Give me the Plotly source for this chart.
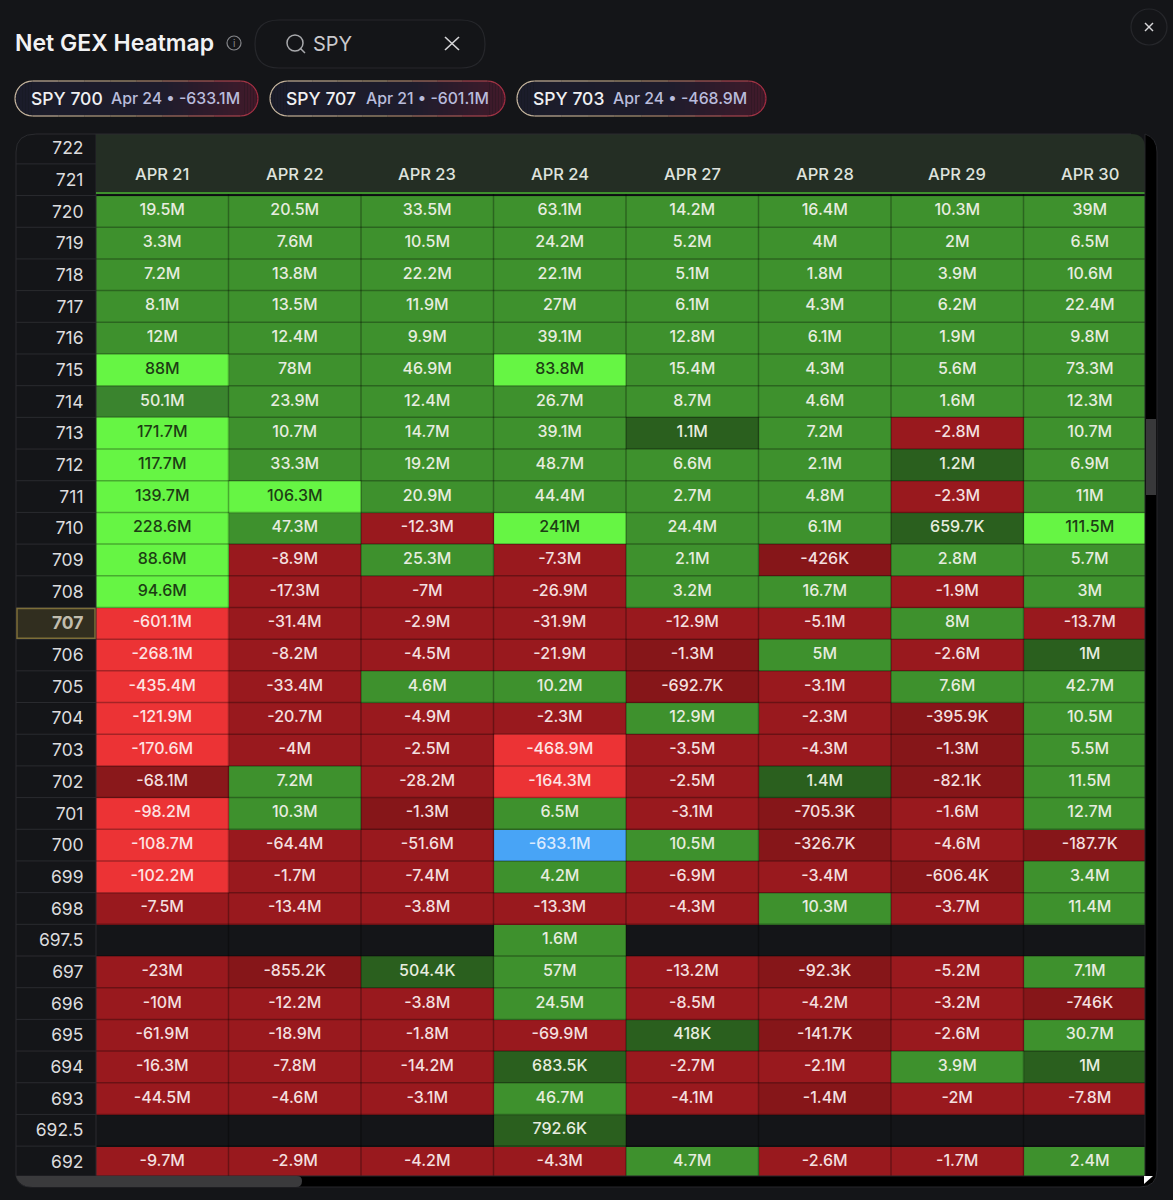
import math

import plotly.graph_objects as go

# strikes top to bottom, the two top rows sit behind the date header
strikes = ["722", "721", "720", "719", "718", "717", "716", "715", "714", "713", "712",
           "711", "710", "709", "708", "707", "706", "705", "704", "703", "702", "701",
           "700", "699", "698", "697.5", "697", "696", "695", "694", "693", "692.5", "692"]
dates = ["APR 21", "APR 22", "APR 23", "APR 24", "APR 27", "APR 28", "APR 29", "APR 30"]

# net GEX in millions
apr21 = [None, None, 19.5, 3.3, 7.2, 8.1, 12, 88, 50.1, 171.7, 117.7, 139.7, 228.6, 88.6, 94.6,
         -601.1, -268.1, -435.4, -121.9, -170.6, -68.1, -98.2, -108.7, -102.2, -7.5,
         None, -23, -10, -61.9, -16.3, -44.5, None, -9.7]
apr22 = [None, None, 20.5, 7.6, 13.8, 13.5, 12.4, 78, 23.9, 10.7, 33.3, 106.3, 47.3, -8.9, -17.3,
         -31.4, -8.2, -33.4, -20.7, -4, 7.2, 10.3, -64.4, -1.7, -13.4,
         None, -0.8552, -12.2, -18.9, -7.8, -4.6, None, -2.9]
apr23 = [None, None, 33.5, 10.5, 22.2, 11.9, 9.9, 46.9, 12.4, 14.7, 19.2, 20.9, -12.3, 25.3, -7,
         -2.9, -4.5, 4.6, -4.9, -2.5, -28.2, -1.3, -51.6, -7.4, -3.8,
         None, 0.5044, -3.8, -1.8, -14.2, -3.1, None, -4.2]
apr24 = [None, None, 63.1, 24.2, 22.1, 27, 39.1, 83.8, 26.7, 39.1, 48.7, 44.4, 241, -7.3, -26.9,
         -31.9, -21.9, 10.2, -2.3, -468.9, -164.3, 6.5, -633.1, 4.2, -13.3,
         1.6, 57, 24.5, -69.9, 0.6835, 46.7, 0.7926, -4.3]
apr27 = [None, None, 14.2, 5.2, 5.1, 6.1, 12.8, 15.4, 8.7, 1.1, 6.6, 2.7, 24.4, 2.1, 3.2,
         -12.9, -1.3, -0.6927, 12.9, -3.5, -2.5, -3.1, 10.5, -6.9, -4.3,
         None, -13.2, -8.5, 0.418, -2.7, -4.1, None, 4.7]
apr28 = [None, None, 16.4, 4, 1.8, 4.3, 6.1, 4.3, 4.6, 7.2, 2.1, 4.8, 6.1, -0.426, 16.7,
         -5.1, 5, -3.1, -2.3, -4.3, 1.4, -0.7053, -0.3267, -3.4, 10.3,
         None, -0.0923, -4.2, -0.1417, -2.1, -1.4, None, -2.6]
apr29 = [None, None, 10.3, 2, 3.9, 6.2, 1.9, 5.6, 1.6, -2.8, 1.2, -2.3, 0.6597, 2.8, -1.9,
         8, -2.6, 7.6, -0.3959, -1.3, -0.0821, -1.6, -4.6, -0.6064, -3.7,
         None, -5.2, -3.2, -2.6, 3.9, -2, None, -1.7]
apr30 = [None, None, 39, 6.5, 10.6, 22.4, 9.8, 73.3, 12.3, 10.7, 6.9, 11, 111.5, 5.7, 3,
         -13.7, 1, 42.7, 10.5, 5.5, 11.5, 12.7, -0.1877, 3.4, 11.4,
         None, 7.1, -0.746, 30.7, 1, -7.8, None, 2.4]
columns = [apr21, apr22, apr23, apr24, apr27, apr28, apr29, apr30]

# top strikes shown as chips above the table
chips = [("SPY 700", "Apr 24 • -633.1M"), ("SPY 707", "Apr 21 • -601.1M"), ("SPY 703", "Apr 24 • -468.9M")]
highlight_strike = "707"
muted_cells = [("APR 21", "714"), ("APR 21", "702")]

W, H = 1173, 1200
BG = "#141518"
tier_colors = ["#48a4f6", "#ec3335", "#99191e", "#861619", "#8a181b",
               "#2a5f1e", "#3e912d", "#3a842e", "#66f544"]
text_colors = {8: "#1d3d14", 0: "#dbeafe", 1: "#fde3e3"}
lowest = min(v for c in columns for v in c if v is not None)


def tier(v, col, row):
    if v == lowest:
        return 0
    if v <= -90:
        return 1
    if v >= 80:
        return 8
    if (dates[col], strikes[row]) in muted_cells:
        return 4 if v < 0 else 7
    if v < 0:
        return 3 if v > -1.5 else 2
    return 5 if v < 1.5 else 6


def label(v):
    if abs(v) < 1:
        return f"{round(v * 1000, 1):g}K"
    return f"{v:g}M"


def px(x):
    return x / W


def py(y):
    return 1 - y / H


def page_shape(kind, x0, y0, x1, y1, **kw):
    return dict(type=kind, xref="paper", yref="paper", x0=px(x0), x1=px(x1), y0=py(y0), y1=py(y1), **kw)


def page_path(d, **kw):
    # d is a list of path commands in page pixels, e.g. ("L", 10, 20) or ("Q", 10, 20, 30, 40)
    parts = []
    for cmd, *xy in d:
        pairs = [f"{px(xy[i]):.5f},{py(xy[i + 1]):.5f}" for i in range(0, len(xy), 2)]
        parts.append(cmd + " ".join(pairs))
    return dict(type="path", xref="paper", yref="paper", path=" ".join(parts), **kw)


def mix(a, b, t):
    a = [int(a[i:i + 2], 16) for i in (1, 3, 5)]
    b = [int(b[i:i + 2], 16) for i in (1, 3, 5)]
    return "#" + "".join(f"{round(p + (q - p) * t):02x}" for p, q in zip(a, b))


def pill(x0, x1, y0, y1):
    # no gradients on shapes, so slice the chip into thin strips
    out = []
    r = (y1 - y0) / 2
    cy = (y0 + y1) / 2

    def half(x):
        if x < x0 + r:
            return math.sqrt(max(r * r - (x0 + r - x) ** 2, 0))
        if x > x1 - r:
            return math.sqrt(max(r * r - (x - x1 + r) ** 2, 0))
        return r

    x = x0
    while x < x1:
        step = 1.5 if x < x0 + r or x >= x1 - r else 5
        t = (x - x0) / (x1 - x0)
        fill = mix("#1b1c2a", "#1e1c2c", t / 0.6) if t < 0.6 else mix("#1e1c2c", "#421a2a", (t - 0.6) / 0.4)
        h = half(x + step / 2)
        out.append(page_shape("rect", x, cy - h, min(x + step, x1), cy + h, fillcolor=fill, line_width=0))
        x += step
    # outline as short segments, tan on the left going to red on the right
    quarter = [a * math.pi / 16 for a in range(9)]
    top = [(x0 + r - r * math.cos(a), cy - r * math.sin(a)) for a in quarter]
    top += [(x1 - r + r * math.sin(a), cy - r * math.cos(a)) for a in quarter]
    bottom = [(x, 2 * cy - y) for x, y in reversed(top)]
    loop = top + bottom + top[:1]
    for (ax, ay), (bx, by) in zip(loop, loop[1:]):
        cnt = max(1, int(abs(bx - ax) / 24))
        for n in range(cnt):
            sx, ex = ax + (bx - ax) * n / cnt, ax + (bx - ax) * (n + 1) / cnt
            sy, ey = ay + (by - ay) * n / cnt, ay + (by - ay) * (n + 1) / cnt
            t = ((sx + ex) / 2 - x0) / (x1 - x0)
            c = mix("#cdbca4", "#a8906f", t / 0.5) if t < 0.5 else mix("#a8906f", "#a62c42", (t - 0.5) / 0.5)
            out.append(page_shape("line", sx, sy, ex, ey, line=dict(color=c, width=1.2)))
    return out


z = [[None if columns[c][r] is None else tier(columns[c][r], c, r) for c in range(len(dates))]
     for r in range(len(strikes))]

fig = go.Figure()
fig.add_trace(go.Heatmap(
    x=dates, y=strikes, z=z, zmin=0, zmax=8, showscale=False, hoverongaps=False,
    colorscale=[[i / 8, c] for i, c in enumerate(tier_colors)],
))

# cell text, dark on the bright green and light everywhere else
cell_x, cell_y, cell_text, cell_color = [], [], [], []
for c, col in enumerate(columns):
    for r, v in enumerate(col):
        if v is None:
            continue
        cell_x.append(dates[c])
        cell_y.append(strikes[r])
        cell_text.append(label(v))
        cell_color.append(text_colors.get(z[r][c], "#e6ecdf" if v > 0 else "#f3dfdf"))
fig.add_trace(go.Scatter(
    x=cell_x, y=cell_y, text=cell_text, mode="text", hoverinfo="skip",
    textposition="middle center",
    textfont=dict(family="Inter", size=16, color=cell_color, weight=500),
))

shapes = []
grid = "rgba(0,0,0,0.3)"
# cell borders, darker tint of whatever is under them
for i in range(len(dates) - 1):
    shapes.append(dict(type="line", xref="x", yref="paper", x0=i + 0.5, x1=i + 0.5, y0=py(1177), y1=py(134),
                       line=dict(color=grid, width=1.5)))
for i in range(len(strikes) - 1):
    shapes.append(dict(type="line", xref="paper", yref="y", x0=px(96), x1=px(1145), y0=i + 0.5, y1=i + 0.5,
                       line=dict(color=grid, width=1.5)))
    shapes.append(dict(type="line", xref="paper", yref="y", x0=px(16), x1=px(96), y0=i + 0.5, y1=i + 0.5,
                       line=dict(color="#2a2b2f", width=1)))
shapes.append(page_shape("line", 96, 134, 96, 1177, line=dict(color="#2a2b2f", width=1)))

# date header on top of the first rows
shapes.append(page_shape("rect", 96, 192, 1145, 194, fillcolor="#3e912d", line_width=0))
shapes.append(page_path(
    [("M", 96, 134), ("L", 1131, 134), ("Q", 1145, 134, 1145, 148), ("L", 1145, 192), ("L", 96, 192), ("Z",)],
    fillcolor="#242e24", line_width=0))
shapes.append(page_shape("rect", 0, 0, W, 134, fillcolor=BG, line_width=0))

# scrollbars
shapes.append(page_path(
    [("M", 1145, 134), ("Q", 1157, 138, 1157, 152), ("L", 1157, 1170), ("Q", 1157, 1187, 1140, 1187),
     ("L", 30, 1187), ("Q", 18, 1187, 16, 1176), ("L", 1145, 1176), ("Z",)],
    fillcolor="#000000", line=dict(color="#26272b", width=1)))
shapes.append(page_path(
    [("M", 16, 1176), ("L", 297, 1176), ("Q", 302, 1176, 302, 1181), ("Q", 302, 1187, 296, 1187),
     ("L", 32, 1187), ("Q", 19, 1187, 16, 1176), ("Z",)],
    fillcolor="#3a3a3c", line_width=0))
shapes.append(page_shape("rect", 1146, 419, 1156, 495, fillcolor="#38383a", line_width=0))
shapes.append(page_path([("M", 1144, 1176), ("L", 1153, 1176), ("L", 1144, 1184), ("Z",)],
                        fillcolor="#ffffff", line_width=0))

# table frame, rounded top left corner
shapes.append(page_path([("M", 16, 152), ("Q", 16, 134, 36, 134), ("L", 1131, 134)],
                        line=dict(color="#2a2b2f", width=1)))
shapes.append(page_shape("line", 16, 152, 16, 1176, line=dict(color="#2a2b2f", width=1)))

# current strike marker in the label column
hi = strikes.index(highlight_strike)
shapes.append(dict(type="rect", xref="paper", yref="y", x0=px(17), x1=px(95), y0=hi - 0.47, y1=hi + 0.47,
                   fillcolor="rgba(126,110,50,0.28)", line=dict(color="#7d6e38", width=1.5)))

# title row: info icon, search pill, close button
shapes.append(page_shape("circle", 227, 36, 241, 50, line=dict(color="#85868a", width=1.2)))
shapes.append(page_path(
    [("M", 279, 20), ("L", 461, 20), ("Q", 485, 20, 485, 44), ("Q", 485, 68, 461, 68),
     ("L", 279, 68), ("Q", 255, 68, 255, 44), ("Q", 255, 20, 279, 20), ("Z",)],
    line=dict(color="#26272b", width=1.2)))
shapes.append(page_shape("circle", 287, 35, 303, 51, line=dict(color="#a8a9ac", width=1.5)))
shapes.append(page_shape("line", 300, 48, 305, 53, line=dict(color="#a8a9ac", width=1.5)))
shapes.append(page_shape("line", 445, 37, 459, 50, line=dict(color="#d6d6d8", width=1.6)))
shapes.append(page_shape("line", 459, 37, 445, 50, line=dict(color="#d6d6d8", width=1.6)))
shapes.append(page_shape("circle", 1131, 9, 1167, 45, line=dict(color="#26272b", width=1.2)))
shapes.append(page_shape("line", 1145, 23, 1153, 31, line=dict(color="#d6d6d8", width=1.4)))
shapes.append(page_shape("line", 1153, 23, 1145, 31, line=dict(color="#d6d6d8", width=1.4)))

annotations = []


def page_text(x, y, text, size, color, anchor="left", weight=400):
    annotations.append(dict(
        xref="paper", yref="paper", x=px(x), y=py(y), text=text, showarrow=False, xanchor=anchor, yanchor="middle",
        borderpad=0, borderwidth=0, font=dict(family="Inter", size=size, color=color, weight=weight)))


page_text(15, 43, "Net GEX Heatmap", 23, "#f2f2f3", weight=600)
page_text(234, 43, "i", 10, "#85868a", anchor="center")
page_text(313, 44, "SPY", 20, "#c9c9cc")

# chips, first text then the date and value
chip_bounds = [(15, 258), (270, 505), (517, 766)]
for (x0, x1), (name, detail) in zip(chip_bounds, chips):
    shapes.extend(pill(x0, x1, 81, 116))
    page_text(x0 + 16, 98.5, name, 17.5, "#f0f0f2", weight=500)
    page_text(x0 + 96, 98.5, detail, 15.8, "#b9bcdc", weight=500)

for d in dates:
    annotations.append(dict(xref="x", yref="paper", x=d, y=py(174), text=d, showarrow=False, yanchor="middle",
                            font=dict(family="Inter", size=16.5, color="#dfe3dd", weight=500)))

ticktext = [f"<b>{s}</b>" if s == highlight_strike else s for s in strikes]

fig.update_layout(
    width=W, height=H, margin=dict(l=0, r=0, t=0, b=0), showlegend=False,
    paper_bgcolor=BG, plot_bgcolor=BG,
    font=dict(family="Inter"),
    shapes=[dict(s, layer="above") for s in shapes],
    annotations=annotations,
    xaxis=dict(domain=[px(96), px(1156)], type="category", categoryorder="array", categoryarray=dates,
               range=[-0.5, 7.5], showticklabels=False, showgrid=False, zeroline=False, ticks=""),
    yaxis=dict(domain=[py(1177.8), py(132.2)], type="category", categoryorder="array", categoryarray=strikes,
               range=[32.5, -0.5], tickmode="array", tickvals=strikes, ticktext=ticktext,
               showgrid=False, zeroline=False, ticks="outside", ticklen=8, tickcolor="rgba(0,0,0,0)",
               tickfont=dict(family="Inter", size=17.5, color="#dcdcde")),
)

fig.write_html("out.html", config={"displayModeBar": False},
               post_script="document.body.style.margin='0';document.body.style.background='#141518';")
